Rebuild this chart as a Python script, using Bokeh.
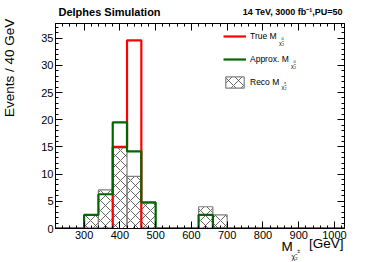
import numpy as np
from bokeh.plotting import figure
from bokeh.models import (Range1d, LinearAxis, FixedTicker, Label, Legend, LegendItem,
                          CustomLabelingPolicy)
from bokeh.embed import file_html
from bokeh.resources import INLINE

# ---- data ----
bin_edges = [220, 260, 300, 340, 380, 420, 460, 500, 540, 580, 620, 660, 700,
             740, 780, 820, 860, 900, 940, 980, 1020, 1060]
true_counts = [0, 0, 0, 0, 15.0, 34.6, 0, 0, 0, 0, 0, 0, 0, 0, 0, 0, 0, 0, 0, 0, 0]
approx_counts = [0, 0, 2.5, 6.3, 19.5, 14.2, 4.8, 0, 0, 0, 2.5, 0, 0, 0, 0, 0, 0, 0, 0, 0, 0]
reco_counts = [0, 0, 2.4, 7.1, 14.8, 9.6, 4.7, 0, 0, 0, 4.0, 2.5, 0, 0, 0, 0, 0, 0, 0, 0, 0]
x_ticks = [300, 400, 500, 600, 700, 800, 900, 1000]
y_ticks = [0, 5, 10, 15, 20, 25, 30, 35]
x_minor = list(range(220, 1041, 20))
y_minor = list(range(0, 38))

FONT = "Liberation Sans"

p = figure(frame_width=289, frame_height=205, min_border_left=55, min_border_right=22,
           min_border_top=23, min_border_bottom=34, x_range=Range1d(220, 1028),
           y_range=Range1d(0, 37.7), output_backend="svg", toolbar_location=None,
           background_fill_color="white", border_fill_color="white")
p.xgrid.visible = False
p.ygrid.visible = False
p.outline_line_color = "black"
p.outline_line_width = 1

HIDE_LABELS = """
const ids = Array.from(indices)
for (const i of ids) { indices.unset(i) }
return indices
"""

def style_axis(ax, labels=True):
    ax.major_tick_in = 7
    ax.major_tick_out = 0
    ax.minor_tick_in = 3
    ax.minor_tick_out = 0
    ax.axis_line_color = "black"
    ax.major_tick_line_color = "black"
    ax.minor_tick_line_color = "black"
    ax.major_label_text_font = FONT
    ax.major_label_text_color = "black"
    if labels:
        ax.major_label_text_font_size = "11px"
        ax.major_label_standoff = 2
    else:
        ax.major_label_text_font_size = "0px"
        ax.major_label_standoff = 0
        ax.major_label_policy = CustomLabelingPolicy(code=HIDE_LABELS)

p.xaxis.ticker = FixedTicker(ticks=x_ticks, minor_ticks=x_minor)
p.yaxis.ticker = FixedTicker(ticks=y_ticks, minor_ticks=y_minor)
style_axis(p.xaxis[0])
style_axis(p.yaxis[0])

top_ax = LinearAxis(ticker=FixedTicker(ticks=x_ticks, minor_ticks=x_minor))
right_ax = LinearAxis(ticker=FixedTicker(ticks=y_ticks, minor_ticks=y_minor))
style_axis(top_ax, labels=False)
style_axis(right_ax, labels=False)
p.add_layout(top_ax, "above")
p.add_layout(right_ax, "right")

# ---- histograms ----
r_reco = p.quad(left=bin_edges[:-1], right=bin_edges[1:], bottom=0, top=reco_counts,
                fill_alpha=0, line_color="#808080", line_width=1.2,
                hatch_pattern="diagonal_cross", hatch_color="#404040",
                hatch_weight=0.8, hatch_scale=10)
r_true = p.step(x=bin_edges, y=true_counts + [true_counts[-1]], mode="after",
                line_color="#ff0000", line_width=2.2)
r_appr = p.step(x=bin_edges, y=approx_counts + [approx_counts[-1]], mode="after",
                line_color="#006600", line_width=2.2)

legend = Legend(items=[LegendItem(label="True M", renderers=[r_true]),
                       LegendItem(label="Approx. M", renderers=[r_appr]),
                       LegendItem(label="Reco M", renderers=[r_reco])],
                location=(168, 139), glyph_width=23, glyph_height=14, label_height=14,
                spacing=9, padding=0, margin=0, border_line_alpha=0,
                background_fill_alpha=0, label_text_font=FONT,
                label_text_font_size="8.5px", label_standoff=4,
                label_text_color="black")
p.add_layout(legend)

def mk(text, x, y, size, align="left", baseline="alphabetic", style="normal", angle=0):
    return Label(x=x, y=y, x_units="screen", y_units="screen", text=text,
                 text_font=FONT, text_font_size=size, text_align=align,
                 text_baseline=baseline, text_font_style=style, angle=angle,
                 text_color="black")

def fx(px):
    return px - 55
def fy(py):
    return 227.7 - py

# texts outside the frame live in side panels (side panels are not clipped)
p.add_layout(mk("Delphes Simulation", fx(58), 5.5, "11px", baseline="bottom",
                style="bold"), "above")
p.add_layout(mk("14 TeV, 3000 fb\u207b\u00b9,PU=50", fx(342), -5, "9px",
                align="right", baseline="bottom", style="bold"), "above")
p.add_layout(mk("[GeV]", fx(343), 6, "13.5px", align="right", baseline="bottom"), "below")
p.add_layout(mk("Events / 40 GeV", -21.5, fy(18), "13.5px", align="right",
                baseline="top", angle=np.pi / 2), "left")
# x-label pieces placed via the left panels (their y is measured from the frame bottom)
p.add_layout(mk("M", 283 - 14.1, fy(246), "13.5px"), "left")
p.add_layout(mk("\u03c7\u0303\u2082", 293 - 8.1, fy(256), "7px"), "left")
p.add_layout(mk("\u00b1", 299 - 5.2, fy(250), "5px"), "left")

for py_c, x_end, sup in [(35.7, 278.5, "0"), (59.0, 290.5, "0"), (79.7, 281.0, "\u00b1")]:
    p.add_layout(mk("\u03c7\u0303\u2082", fx(x_end), fy(py_c + 6.5), "5.5px"))
    p.add_layout(mk(sup, fx(x_end + 2.5), fy(py_c + 1.5), "4px"))

open("out.html", "w").write(file_html(p, INLINE))
